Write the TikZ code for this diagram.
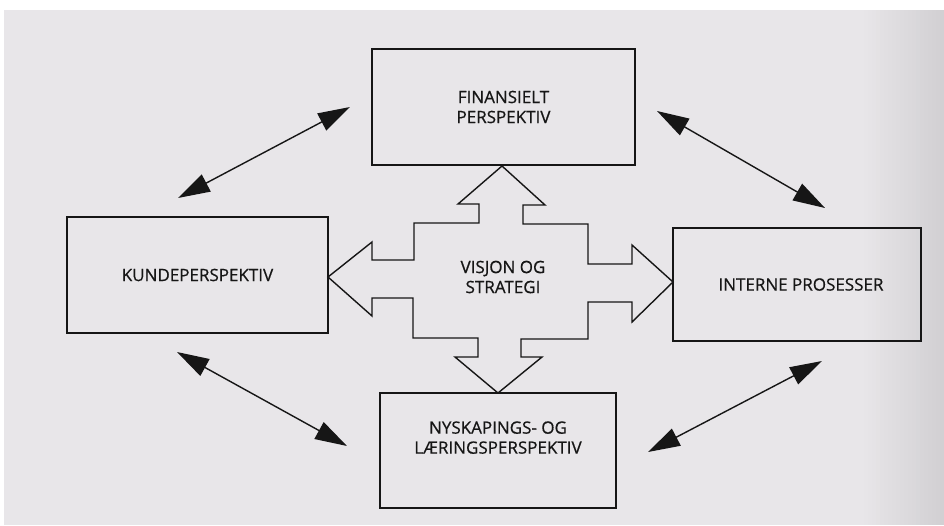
\documentclass[tikz,border=0pt]{standalone}
\usepackage{fontspec}
\setmainfont{Open Sans}
\newfontfamily\labelfont{Open Sans}[FakeBold=0.6]
\usetikzlibrary{arrows.meta}
\definecolor{paper}{RGB}{232,230,233}
\definecolor{paperdark}{RGB}{210,208,211}
\definecolor{ink}{RGB}{22,22,22}
\begin{document}
\begin{tikzpicture}[x=1pt,y=-1pt,
  txt/.style={text=ink, align=center, font=\labelfont\fontsize{17}{20}\selectfont},
  box/.style={txt, draw=ink, line width=1.4pt, inner sep=0pt},
  link/.style={draw=ink, line width=1.4pt,
    {Triangle[length=32pt,width=19pt]}-{Triangle[length=32pt,width=19pt]}}]
\useasboundingbox (0,0) rectangle (944,525);
% page, darkening slightly towards the right edge
\fill[white] (0,0) rectangle (944,525);
\fill[paper] (4,10) rectangle (944,525);
\foreach \i in {0,...,20} {
  \pgfmathsetmacro{\shadeval}{\i*5}
  \fill[paperdark!\shadeval!paper] ({860+\i*4},10) rectangle ({864.5+\i*4},525);
}

% the four perspectives
\node[box, minimum width=263pt, minimum height=116pt] (fin) at (503.5,107) {FINANSIELT\\PERSPEKTIV};
\node[box, minimum width=261pt, minimum height=116pt] (kunde) at (197.5,275) {KUNDEPERSPEKTIV};
\node[box, minimum width=248pt, minimum height=113pt] (intern) at (797,284.5) {\hspace*{8pt}INTERNE PROSESSER};
\node[box, minimum width=236pt, minimum height=115pt] (nysk) at (498,450.5) {NYSKAPINGS- OG\\LÆRINGSPERSPEKTIV\\[6pt]};

% four-headed block arrow in the middle
\draw[ink, line width=1.4pt, line join=miter]
  (502,166) -- (545,205) -- (523,205) -- (523,224) -- (588,224) -- (588,264)
  -- (632,264) -- (632,245) -- (673,282) -- (632,322) -- (632,302) -- (588,302)
  -- (588,339) -- (521,339) -- (521,357) -- (542,357) -- (498,393) -- (455,357)
  -- (478,357) -- (478,338) -- (413,338) -- (413,298) -- (372,298) -- (372,316)
  -- (328,277) -- (372,242) -- (372,260) -- (414,260) -- (414,223) -- (479,223)
  -- (479,204) -- (458,204) -- cycle;
\node[txt] (vision) at (503,277) {VISJON OG\\STRATEGI};

% links between neighbouring perspectives
\coordinate (tlA) at (178,198); \coordinate (tlB) at (350,107);
\coordinate (trA) at (657,111); \coordinate (trB) at (825,208);
\coordinate (blA) at (177,352); \coordinate (blB) at (347,446);
\coordinate (brA) at (648,452); \coordinate (brB) at (822,361);
\draw[link] (tlA) -- (tlB);
\draw[link] (trA) -- (trB);
\draw[link] (blA) -- (blB);
\draw[link] (brA) -- (brB);
\end{tikzpicture}
\end{document}
